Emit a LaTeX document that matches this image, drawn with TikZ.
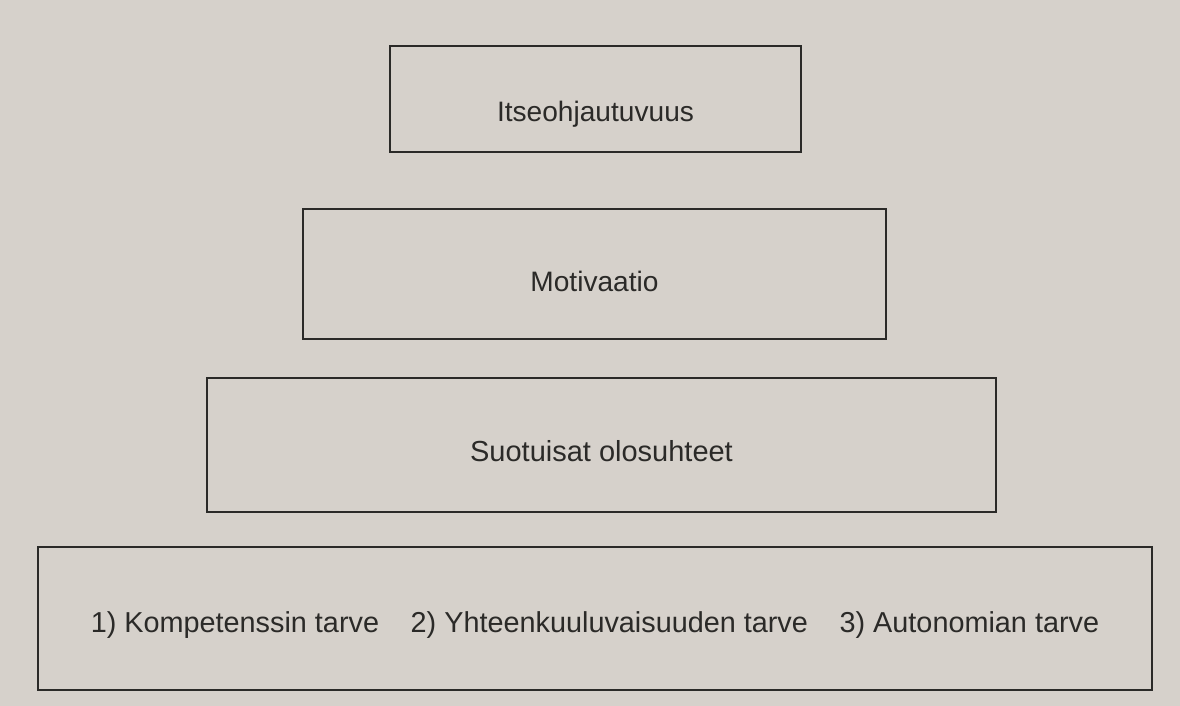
\documentclass[tikz,border=0pt]{standalone}
\usepackage{fontspec}
\setsansfont{Liberation Sans}
\usepackage{xcolor}
\usepackage{tikz}
\usetikzlibrary{positioning,backgrounds}
\definecolor{paper}{HTML}{D6D1CB}
\definecolor{ink}{HTML}{2B2A28}

\begin{document}
\begin{tikzpicture}[x=0.02cm, y=-0.02cm,
  font=\fontsize{16}{19}\selectfont\sffamily,
  lvl/.style={draw=ink, line width=1.2pt, text=ink, inner sep=0pt, text depth=0pt}]
\fill[paper] (0,0) rectangle (1180,706);
\useasboundingbox (0,0) rectangle (1180,706);
\node[lvl, minimum width=8.22cm, minimum height=2.12cm, text height=26pt] (itse) at (595.5,99) {Itseohjautuvuus};
\node[lvl, minimum width=11.66cm, minimum height=2.6cm, text height=20.4pt] (moti) at (594.5,274) {Motivaatio};
\node[lvl, minimum width=15.78cm, minimum height=2.68cm, text height=19pt,
  font=\fontsize{16.5}{19}\selectfont\sffamily] (olo) at (601.5,445) {Suotuisat olosuhteet};
\node[lvl, minimum width=22.28cm, minimum height=2.86cm, text height=16.4pt,
  font=\fontsize{16.4}{19}\selectfont\sffamily] (tarve) at (595,618.5)
  {1) Kompetenssin tarve\hspace{1.1em}2) Yhteenkuuluvaisuuden tarve\hspace{1.1em}3) Autonomian tarve};
\end{tikzpicture}
\end{document}
